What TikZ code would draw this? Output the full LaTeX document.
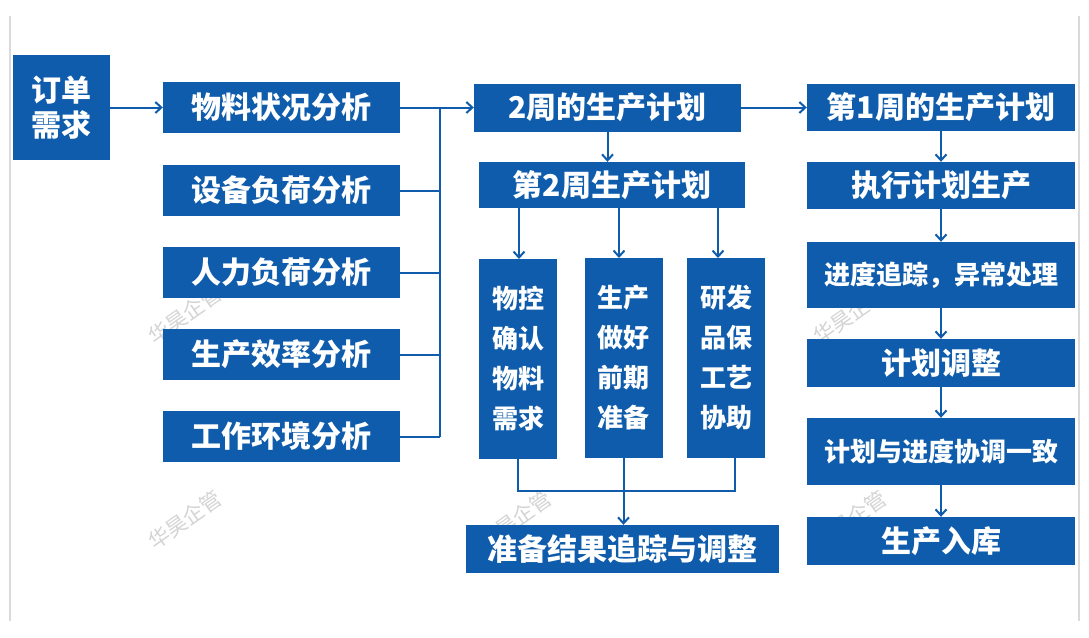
\documentclass[tikz,border=0pt]{standalone}
\usepackage{fontspec}
\newfontfamily\cjk{Noto Sans CJK SC}
\usetikzlibrary{arrows.meta,calc}
\definecolor{boxblue}{RGB}{14,92,171}
\definecolor{edgegray}{RGB}{218,218,218}
\definecolor{wmgray}{RGB}{212,212,212}
\tikzset{
  bx/.style={fill=boxblue,text=white,inner sep=0pt,align=center,anchor=center,
    font=\cjk\bfseries\fontsize{30}{36}\selectfont},
  smallbx/.style={bx,font=\cjk\bfseries\fontsize{26}{32}\selectfont},
  tallbx/.style={bx,minimum width=78pt,minimum height=200pt,
    font=\cjk\bfseries\fontsize{26}{40}\selectfont},
  conn/.style={draw=boxblue,line width=2pt},
  arr/.style={conn,-{Straight Barb[length=6pt,width=11pt,line width=2pt]}},
  wm/.style={text=wmgray,rotate=35,font=\cjk\fontsize{21}{21}\selectfont,inner sep=0pt}
}
\begin{document}
\begin{tikzpicture}[x=1pt,y=-1pt]
\useasboundingbox (0,0) rectangle (1089,637);
\fill[white] (0,0) rectangle (1089,637);
% slide edges
\draw[edgegray,line width=2pt] (10,16) -- (10,621);
\draw[edgegray,line width=2pt] (1079,16) -- (1079,621);
% watermarks
\node[wm] (wm1) at (185,315) {华昊企管};
\node[wm] (wm2) at (850,315) {华昊企管};
\node[wm] (wm3) at (185,520) {华昊企管};
\node[wm] (wm4) at (515,520) {华昊企管};
\node[wm] (wm5) at (850,520) {华昊企管};
% left column
\node[bx,minimum width=97pt,minimum height=105pt,font=\cjk\bfseries\fontsize{30}{35}\selectfont] (order) at (61.5,107.5) {订单\\需求};
\node[bx,minimum width=237pt,minimum height=51pt] (a1) at (281.5,107.5) {物料状况分析};
\node[bx,minimum width=237pt,minimum height=51pt] (a2) at (281.5,190.5) {设备负荷分析};
\node[bx,minimum width=237pt,minimum height=51pt] (a3) at (281.5,272.5) {人力负荷分析};
\node[bx,minimum width=237pt,minimum height=51pt] (a4) at (281.5,354.5) {生产效率分析};
\node[bx,minimum width=237pt,minimum height=51pt] (a5) at (281.5,436.5) {工作环境分析};
% middle column
\node[bx,minimum width=267pt,minimum height=48pt] (p2) at (607.5,107.5) {2周的生产计划};
\node[bx,minimum width=266pt,minimum height=46pt] (w2) at (612,185) {第2周生产计划};
\node[tallbx] (t1) at (518,359) {物控\\确认\\物料\\需求};
\node[tallbx] (t2) at (623.5,358) {生产\\做好\\前期\\准备};
\node[tallbx] (t3) at (726,358) {研发\\品保\\工艺\\协助};
\node[bx,minimum width=313pt,minimum height=48pt] (res) at (622.5,549) {准备结果追踪与调整};
% right column
\node[bx,minimum width=268pt,minimum height=47pt] (r1) at (941,107.5) {第1周的生产计划};
\node[bx,minimum width=268pt,minimum height=47pt] (r2) at (941,185.5) {执行计划生产};
\node[smallbx,minimum width=268pt,minimum height=66pt] (r3) at (941,275) {进度追踪，异常处理};
\node[bx,minimum width=268pt,minimum height=48pt] (r4) at (941,363) {计划调整};
\node[smallbx,minimum width=268pt,minimum height=67pt] (r5) at (941,451.5) {计划与进度协调一致};
\node[bx,minimum width=268pt,minimum height=48pt] (r6) at (941,541) {生产入库};
% coordinates
\coordinate (bustop) at (440,107.5);
\coordinate (busbot) at (440,436.5);
\coordinate (d1) at (519,259);
\coordinate (d2) at (619,258);
\coordinate (d3) at (718,258);
\coordinate (u1) at (518,491);
\coordinate (u3) at (735,458);
% connectors
\draw[arr] (order.east) -- (a1.west);
\draw[conn] (bustop) -- (busbot);
\draw[conn] (a2.east) -- (a2.east -| bustop);
\draw[conn] (a3.east) -- (a3.east -| bustop);
\draw[conn] (a4.east) -- (a4.east -| bustop);
\draw[conn] (a5.east) -- (a5.east -| bustop);
\draw[arr] (a1.east) -- (a1.east -| p2.west);
\draw[arr] (p2.east) -- (p2.east -| r1.west);
\draw[arr] (p2.south) -- (p2.south |- w2.north);
\draw[arr] (d1 |- w2.south) -- (d1);
\draw[arr] (d2 |- w2.south) -- (d2);
\draw[arr] (d3 |- w2.south) -- (d3);
\draw[conn] (t1.south) -- (u1) -| (u3);
\draw[arr] (t2.south) -- (t2.south |- res.north);
\draw[arr] (r1.south) -- (r2.north);
\draw[arr] (r2.south) -- (r3.north);
\draw[arr] (r3.south) -- (r4.north);
\draw[arr] (r4.south) -- (r5.north);
\draw[arr] (r5.south) -- (r6.north);
\end{tikzpicture}
\end{document}
